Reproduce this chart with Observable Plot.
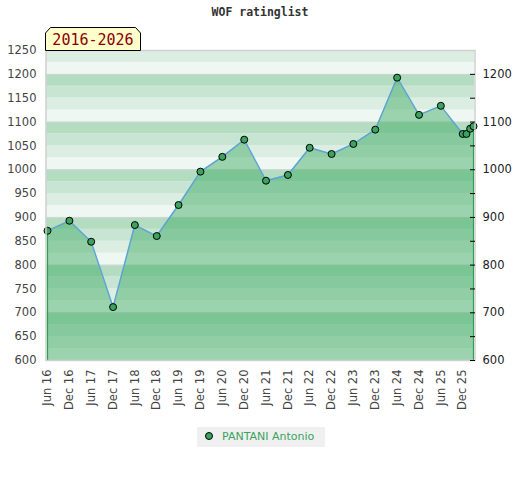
<!DOCTYPE html>
<html>
<head>
<meta charset="utf-8">
<script src="https://cdn.jsdelivr.net/npm/d3@7"></script>
<script src="https://cdn.jsdelivr.net/npm/@observablehq/plot@0.6"></script>
<style>
  body { margin: 0; background: #fff; }
  #wrap { position: relative; width: 520px; height: 480px; background: #fff; overflow: hidden; }
  #title { position: absolute; left: 0; top: 5px; width: 520px; text-align: center;
           font: bold 11.5px "DejaVu Sans Mono", monospace; color: #333; }
  #chart { position: absolute; left: 0; top: 0; }
  #badge { position: absolute; left: 0; top: 0; }
  #legend { position: absolute; left: 197px; top: 427px; width: 128px; height: 20px; background: #f0f0f0;
            font: 11px "DejaVu Sans", sans-serif; color: #3aa35e; }
  #legend .dot { position: absolute; left: 8px; top: 5px; width: 6px; height: 6px; border-radius: 50%;
                 background: #3aa35e; border: 1px solid #000; }
  #legend .lbl { position: absolute; left: 25px; top: 3px; white-space: nowrap; }
</style>
</head>
<body>
<div id="wrap">
  <div id="chart"></div>
  <div id="title"></div>
  <svg id="badge" width="160" height="60"></svg>
  <div id="legend"><span class="dot"></span><span class="lbl"></span></div>
</div>
<script>
// ---- data ----
const chartTitle = "WOF ratinglist";
const periodLabel = "2016-2026";
const seriesName = "PANTANI Antonio";
const dates = [
  "2016-06-01","2016-12-01","2017-06-01","2017-12-01","2018-06-01","2018-12-01",
  "2019-06-01","2019-12-01","2020-06-01","2020-12-01","2021-06-01","2021-12-01",
  "2022-06-01","2022-12-01","2023-06-01","2023-12-01","2024-06-01","2024-12-01",
  "2025-06-01","2025-12-01","2026-01-01","2026-02-01","2026-03-01"
];
const ratings = [
  872, 893, 849, 712, 884, 861,
  926, 996, 1027, 1063, 977, 989,
  1046, 1033, 1054, 1084, 1193, 1115,
  1134, 1075, 1075, 1086, 1091
];
const xTickLabels = [
  "Jun 16","Dec 16","Jun 17","Dec 17","Jun 18","Dec 18","Jun 19","Dec 19","Jun 20","Dec 20",
  "Jun 21","Dec 21","Jun 22","Dec 22","Jun 23","Dec 23","Jun 24","Dec 24","Jun 25","Dec 25"
];
const leftTicks = [600,650,700,750,800,850,900,950,1000,1050,1100,1150,1200,1250];
const rightTicks = [600,700,800,900,1000,1100,1200];
const rightMinorTicks = [650,750,850,950,1050,1150];
const yDomain = [600, 1250];

// ---- build ----
const data = dates.map((d, i) => ({date: new Date(d), rating: ratings[i]}));
const xTicks = data.slice(0, xTickLabels.length).map(d => d.date);
const bandColors = ["#eef7f1", "#dcede2", "#c8e5d3", "#b3dcc0"];
const bands = d3.range(yDomain[0], yDomain[1], 25).map(v => ({
  y1: v, y2: v + 25, fill: bandColors[((v - yDomain[0]) / 25) % 4]
}));
const ends = [data[0], data[data.length - 1]];
const fmt = d3.format("d");

const chart = Plot.plot({
  width: 520,
  height: 480,
  marginLeft: 47,
  marginRight: 47,
  marginTop: 50,
  marginBottom: 120,
  style: {fontFamily: "DejaVu Sans, sans-serif", fontSize: "11.5px", color: "#444", background: "transparent"},
  x: {type: "utc", domain: [data[0].date, data[data.length - 1].date]},
  y: {domain: yDomain},
  marks: [
    Plot.rect(bands, {y1: "y1", y2: "y2", fill: "fill", insetLeft: -1, insetRight: -1}),
    Plot.ruleY(rightTicks.slice(1), {stroke: "#d4d4d4", insetLeft: -1, insetRight: -1}),
    Plot.area(data, {x1: "date", y1: yDomain[0], y2: "rating", fill: "#3fac65", fillOpacity: 0.48}),
    Plot.ruleX(ends, {x: "date", y1: yDomain[0], y2: "rating", stroke: "#2e9e50", strokeWidth: 1.2}),
    Plot.line(data, {x: "date", y: "rating", stroke: "#5ba3d9", strokeWidth: 1.4}),
    Plot.dot(data, {x: "date", y: "rating", r: 3.5, fill: "#3aa35e", stroke: "#000", strokeWidth: 1}),
    Plot.frame({stroke: "#d0d0d0", strokeWidth: 1.5, insetLeft: -1.5, insetRight: -1.5}),
    Plot.axisY({anchor: "left", ticks: leftTicks, tickFormat: fmt, tickSize: 0, tickPadding: 11, label: null, color: "#444"}),
    Plot.axisY({anchor: "right", ticks: rightTicks, tickFormat: fmt, tickSize: 0, tickPadding: 9, label: null, color: "#222"}),
    Plot.axisY({anchor: "right", ticks: rightTicks.concat(rightMinorTicks), tickSize: 5, dx: -4, fill: "none", stroke: "#000", label: null}),
    Plot.axisX({ticks: xTicks, tickFormat: (d, i) => xTickLabels[i], tickRotate: -90, tickSize: 0, tickPadding: 9, label: null, color: "#444"})
  ]
});
document.getElementById("chart").appendChild(chart);

document.getElementById("title").textContent = chartTitle;
document.querySelector("#legend .lbl").textContent = seriesName;

// badge
const badge = d3.select("#badge");
badge.append("polygon")
  .attr("points", "45.5,50.5 45.5,33 50.5,27.5 135.5,27.5 140.5,33 140.5,50.5")
  .attr("fill", "#ffffcc").attr("stroke", "#000").attr("stroke-width", 1);
badge.append("text")
  .attr("x", 93).attr("y", 45)
  .attr("text-anchor", "middle")
  .attr("font-family", "DejaVu Sans Mono, monospace")
  .attr("font-size", 15)
  .attr("fill", "#8b0000")
  .text(periodLabel);
</script>
</body>
</html>
